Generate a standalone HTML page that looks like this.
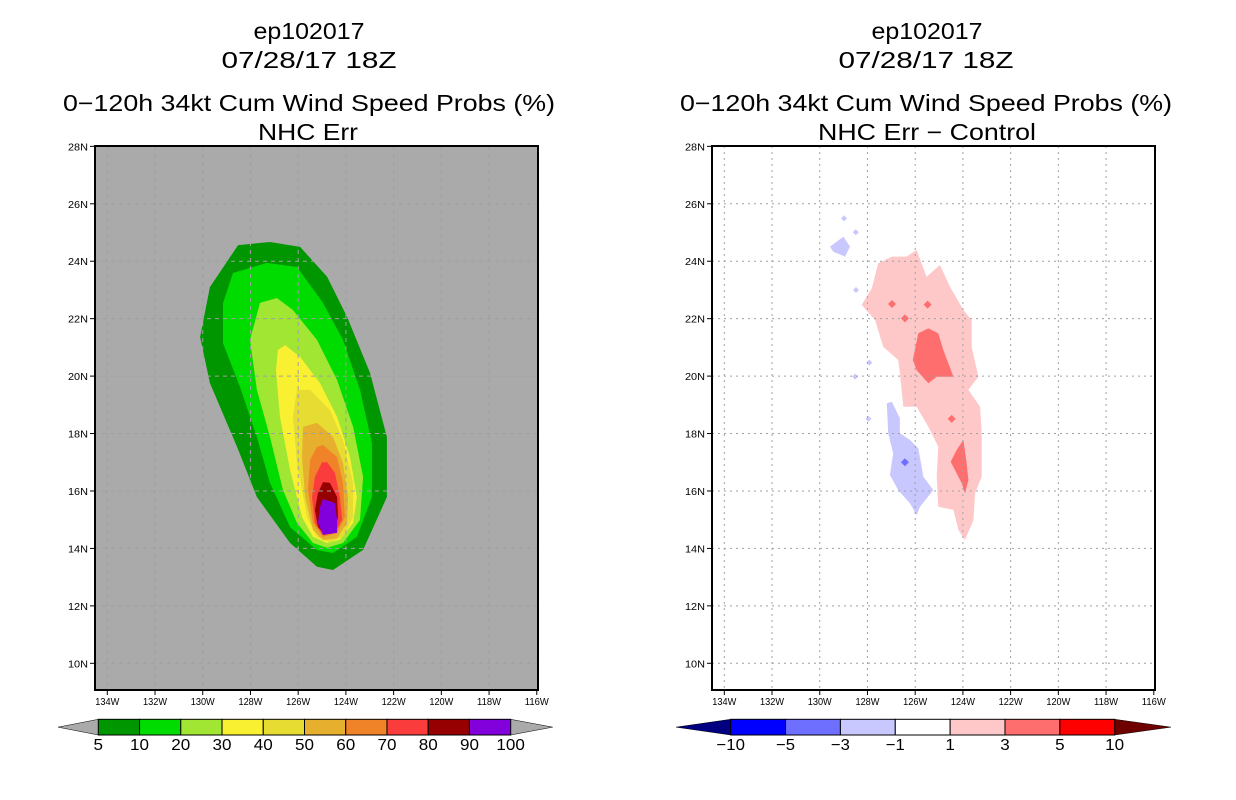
<!DOCTYPE html>
<html><head><meta charset="utf-8"><style>
html,body{margin:0;padding:0;background:#fff;}
svg{display:block;font-family:"Liberation Sans",sans-serif;}
</style></head><body>
<svg id="c" width="1236" height="800" viewBox="0 0 1236 800"></svg>
<script>
// ---- data ----
const lonTicks=[-134,-132,-130,-128,-126,-124,-122,-120,-118,-116];
const latTicks=[10,12,14,16,18,20,22,24,26,28];
const leftLevels=[5,10,20,30,40,50,60,70,80,90,100];
const leftColors=["#009600","#00dc00","#a0e632","#faf032","#e6dc32","#e6af2d","#f08228","#fa3c3c","#960000","#8200dc"];
const rightLevels=[-10,-5,-3,-1,1,3,5,10];
const rightColors=["#0000ff","#6e6eff","#c8c8ff","#ffffff","#ffc8c8","#ff6e6e","#ff0000"];
// contour polygons [lon,lat]
const prob5=[[-128.52,24.56],[-127.18,24.67],[-125.92,24.50],[-124.79,23.46],[-123.95,22.06],[-122.99,20.11],[-122.28,17.88],[-122.28,15.79],[-123.28,13.95],[-124.54,13.25],[-125.21,13.36],[-126.34,14.19],[-127.73,15.79],[-128.56,17.53],[-129.70,19.76],[-130.11,21.36],[-129.70,23.10]];
const prob10=[[-128.73,23.59],[-127.31,23.94],[-126.05,23.80],[-124.96,22.55],[-124.12,21.26],[-123.41,19.52],[-122.91,17.67],[-122.91,15.79],[-123.54,14.40],[-124.54,13.84],[-125.21,13.94],[-126.34,14.74],[-127.18,16.28],[-127.73,17.88],[-128.44,19.62],[-129.15,21.15],[-129.15,22.54]];
const prob20=[[-127.60,22.55],[-126.89,22.72],[-126.22,22.30],[-125.21,21.26],[-124.37,19.86],[-123.70,18.23],[-123.28,16.49],[-123.41,14.99],[-124.12,14.19],[-124.79,14.02],[-125.38,14.19],[-126.05,14.89],[-126.64,16.04],[-127.18,17.88],[-127.73,19.52],[-128.02,21.26]];
const prob30=[[-126.55,21.08],[-125.92,20.67],[-125.09,19.76],[-124.37,18.58],[-123.83,17.18],[-123.54,15.79],[-123.70,14.89],[-124.25,14.30],[-124.79,14.19],[-125.38,14.40],[-125.84,15.09],[-126.34,16.73],[-126.76,18.58],[-126.93,20.21],[-126.85,20.91]];
const prob40=[[-126.05,19.52],[-125.50,19.52],[-124.67,18.82],[-124.12,17.78],[-123.70,16.28],[-123.70,15.09],[-124.12,14.40],[-124.67,14.22],[-125.21,14.40],[-125.63,15.09],[-126.05,16.97],[-126.22,18.58]];
const prob50=[[-125.80,18.23],[-125.21,18.37],[-124.54,17.88],[-124.12,16.97],[-123.91,15.79],[-123.95,14.89],[-124.37,14.36],[-124.96,14.29],[-125.38,14.64],[-125.71,15.79],[-125.84,17.18]];
const prob60=[[-125.21,17.53],[-124.96,17.60],[-124.37,17.18],[-124.12,16.28],[-124.04,15.09],[-124.37,14.54],[-124.96,14.40],[-125.38,14.89],[-125.59,16.04],[-125.50,17.08]];
const prob70=[[-125.00,17.00],[-124.79,17.00],[-124.46,16.63],[-124.25,15.79],[-124.16,14.99],[-124.46,14.57],[-124.96,14.47],[-125.30,14.89],[-125.42,15.79],[-125.30,16.49]];
const prob80=[[-124.96,16.31],[-124.67,16.28],[-124.37,15.79],[-124.33,15.09],[-124.46,14.64],[-124.88,14.47],[-125.17,14.75],[-125.30,15.34],[-125.17,15.93]];
const prob90=[[-124.96,15.72],[-124.46,15.58],[-124.37,14.99],[-124.37,14.54],[-124.96,14.47],[-125.17,14.89],[-125.09,15.44]];
const diffPos1=[[-125.94,24.39],[-125.52,23.46],[-124.96,23.87],[-124.54,23.11],[-123.98,22.30],[-123.63,21.95],[-123.63,21.02],[-123.35,19.98],[-123.77,19.52],[-123.28,18.93],[-123.21,18.01],[-123.21,16.50],[-123.49,15.92],[-123.56,14.99],[-123.91,14.29],[-124.19,14.64],[-124.40,15.34],[-125.03,15.45],[-125.10,16.50],[-125.03,17.54],[-125.45,18.24],[-125.94,18.93],[-126.50,18.93],[-126.64,20.10],[-126.71,20.56],[-127.34,21.02],[-127.68,21.95],[-128.24,22.48],[-127.82,23.06],[-127.55,23.93],[-126.98,24.16],[-126.36,24.16]];
const diffPos3a=[[-125.45,21.66],[-125.03,21.49],[-124.82,20.91],[-124.40,19.98],[-125.10,19.98],[-125.45,19.75],[-125.94,20.21],[-126.10,20.56],[-125.87,21.49]];
const diffPos3b=[[-123.98,17.78],[-123.84,16.96],[-123.77,16.38],[-123.91,15.92],[-124.05,16.27],[-124.51,17.02],[-124.26,17.43]];
const diffNeg1a=[[-127.19,19.05],[-126.98,19.11],[-126.64,18.53],[-126.64,18.01],[-126.22,17.78],[-125.87,17.49],[-125.73,16.85],[-125.66,16.50],[-125.24,16.03],[-125.80,15.45],[-125.94,15.16],[-126.22,15.57],[-126.71,16.03],[-127.06,16.56],[-126.92,17.31],[-127.13,18.01]];
const diffNeg1b=[[-129.57,24.51],[-129.01,24.85],[-128.73,24.51],[-128.94,24.16],[-129.43,24.33]];
const spotsPos3=[[-126.97,22.51],[-125.48,22.49],[-124.47,18.51],[-126.43,22.01]];
const spotsNeg3=[[-126.43,17.00]];
const spotsNeg1=[[-128.52,19.98],[-127.92,20.47],[-127.96,18.51],[-128.49,25.01],[-128.98,25.49],[-128.48,23.0]];

// ---- drawing ----
const svg=document.getElementById('c');
const NS='http://www.w3.org/2000/svg';
function mk(tag,attrs,parent){const e=document.createElementNS(NS,tag);for(const k in attrs)e.setAttribute(k,attrs[k]);(parent||svg).appendChild(e);return e;}
const P0={x0:95,x1:538,y0:146,y1:690}, P1={x0:712,x1:1155,y0:146,y1:690};
function xs(p,lon){return p.x0+12.3+(lon+134)*23.86;}
function ys(p,lat){return 663.3-(lat-10)*28.72;}
function poly(p,pts,fill,name){const d=pts.map(q=>xs(p,q[0]).toFixed(1)+','+ys(p,q[1]).toFixed(1)).join(' ');
 const e=mk('polygon',{points:d,fill:fill});
 
 return e;}
function spot(p,q,r,fill,name){const cx=xs(p,q[0]),cy=ys(p,q[1]);
 const e=mk('polygon',{points:`${cx},${cy-r} ${cx+r},${cy} ${cx},${cy+r} ${cx-r},${cy}`,fill:fill});
 
 }
function txt(x,y,s,size,len,name,anchor){const t=mk('text',{x:x,y:y,'font-size':size,'text-anchor':anchor||'middle',fill:'#000'});
 if(len){t.setAttribute('textLength',len);t.setAttribute('lengthAdjust','spacingAndGlyphs');}
 t.textContent=s;
 
 return t;}

// left panel
mk('rect',{x:P0.x0,y:P0.y0,width:P0.x1-P0.x0,height:P0.y1-P0.y0,fill:'#aaaaaa',});
const leftPolys=[prob5,prob10,prob20,prob30,prob40,prob50,prob60,prob70,prob80,prob90];
leftPolys.forEach((pp,i)=>poly(P0,pp,leftColors[i],'prob-contour-'+leftLevels[i]));
// right panel
mk('rect',{x:P1.x0,y:P1.y0,width:P1.x1-P1.x0,height:P1.y1-P1.y0,fill:'#ffffff',});
poly(P1,diffPos1,rightColors[4],'diff-contour-pos1');
poly(P1,diffPos3a,rightColors[5],'diff-contour-pos3-north');
poly(P1,diffPos3b,rightColors[5],'diff-contour-pos3-south');
poly(P1,diffNeg1a,rightColors[2],'diff-contour-neg1-main');
poly(P1,diffNeg1b,rightColors[2],'diff-contour-neg1-north');
spotsPos3.forEach(q=>spot(P1,q,4,rightColors[5],'diff-spot-pos3'));
spotsNeg3.forEach(q=>spot(P1,q,4,rightColors[1],'diff-spot-neg3'));
spotsNeg1.forEach(q=>spot(P1,q,3,rightColors[2],'diff-spot-neg1'));

[[P0,'left','#a0a0a0','4,4'],[P1,'right','#a0a0a0','2,4']].forEach(([p,side,col,dash])=>{
 const g=mk('g',{});
 lonTicks.slice(0,9).forEach(l=>mk('line',{x1:xs(p,l),x2:xs(p,l),y1:p.y0,y2:p.y1,stroke:col,'stroke-width':1,'stroke-dasharray':dash},g));
 latTicks.slice(0,9).forEach(l=>mk('line',{x1:p.x0,x2:p.x1,y1:ys(p,l),y2:ys(p,l),stroke:col,'stroke-width':1,'stroke-dasharray':dash},g));
 mk('rect',{x:p.x0,y:p.y0,width:p.x1-p.x0,height:p.y1-p.y0,fill:'none',stroke:'#000','stroke-width':2,});
 const ax=mk('g',{});
 lonTicks.forEach(l=>{const x=xs(p,l);mk('line',{x1:x,x2:x,y1:p.y1,y2:p.y1+5,stroke:'#000'},ax);
  const t=txt(x,p.y1+15,(-l)+'W',10,24,side+'-x-tick-label');ax.appendChild(t);});
 const ay=mk('g',{});
 latTicks.forEach(l=>{const y=ys(p,l);mk('line',{x1:p.x0-5,x2:p.x0,y1:y,y2:y,stroke:'#000'},ay);
  const t=txt(p.x0-7,y+4,l+'N',10,20,side+'-y-tick-label','end');ay.appendChild(t);});
});

// titles
txt(309,39,'ep102017',23,111,'left-storm-id');
txt(309,68,'07/28/17 18Z',23,175,'left-date');
txt(309,111,'0\u2212120h 34kt Cum Wind Speed Probs (%)',23,492,'left-title');
txt(308,140,'NHC Err',23,100,'left-subtitle');
txt(927,39,'ep102017',23,111,'right-storm-id');
txt(926,68,'07/28/17 18Z',23,175,'right-date');
txt(926,111,'0\u2212120h 34kt Cum Wind Speed Probs (%)',23,492,'right-title');
txt(927,140,'NHC Err \u2212 Control',23,218,'right-subtitle');

// colorbars
function colorbar(x0,x1,tipL,tipR,levels,colors,leftTip,rightTip,name){
 const g=mk('g',{});
 const y0=719.3,y1=735,ym=(y0+y1)/2,n=colors.length,w=(x1-x0)/n;
 mk('polygon',{points:`${tipL},${ym} ${x0},${y0} ${x0},${y1}`,fill:leftTip,stroke:'#000','stroke-width':0.5,},g);
 mk('polygon',{points:`${tipR},${ym} ${x1},${y0} ${x1},${y1}`,fill:rightTip,stroke:'#000','stroke-width':0.5,},g);
 colors.forEach((c,i)=>{mk('rect',{x:x0+i*w,y:y0,width:w,height:y1-y0,fill:c,stroke:'#000','stroke-width':1,},g);});
 levels.forEach((l,i)=>{const s=l<0?'\u2212'+(-l):String(l);const t=txt(x0+i*w,750,s,16,s.length*9.5,name+'-label');g.appendChild(t);});
}
colorbar(98.3,510.7,58,552.7,leftLevels,leftColors,'#aaaaaa','#aaaaaa','left-colorbar');
colorbar(730.7,1114.7,676,1171,rightLevels,rightColors,'#000080','#6e0000','right-colorbar');
</script>
</body></html>
